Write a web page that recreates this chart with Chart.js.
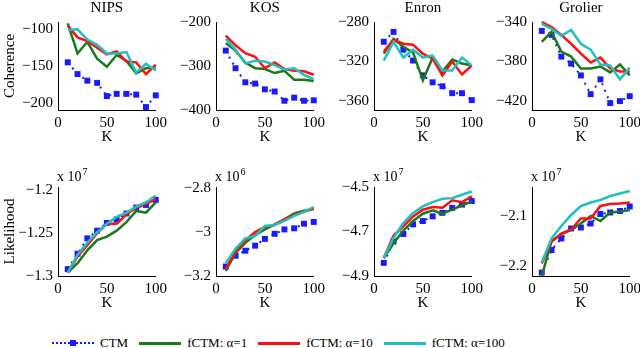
<!DOCTYPE html>
<html>
<head>
<meta charset="utf-8">
<script src="https://cdn.jsdelivr.net/npm/chart.js@4"></script>
<style>
html, body { margin: 0; padding: 0; background: #fff; }
body { width: 640px; height: 348px; position: relative; overflow: hidden; font-family: "Liberation Serif", serif; }
canvas.panel { position: absolute; }
#legend { position: absolute; left: 52px; top: 334px; height: 18px; display: flex; align-items: center; font-size: 13px; color: #000; }
.item { display: flex; align-items: center; margin-right: 11px; height: 18px; }
.swatch { position: relative; width: 42px; height: 0; margin-right: 6px; }
.swatch .sq { position: absolute; left: 18px; top: -4px; width: 6px; height: 6px; background: #1a1aff; }
</style>
</head>
<body>
<div id="legend"></div>
<script>
// x values and tick labels
const K = [10, 20, 30, 40, 50, 60, 70, 80, 90, 100];
const kTicks = [0, 50, 100];

const seriesNames = ['CTM', 'fCTM: \u03b1=1', 'fCTM: \u03b1=10', 'fCTM: \u03b1=100'];
const titles = ['NIPS', 'KOS', 'Enron', 'Grolier'];

// Coherence
const cohNipsCTM = [-145, -161, -170, -173, -191, -188, -188, -189, -206, -190];
const cohNipsA1 = [-92, -133, -117, -140, -151, -135, -143, -160, -153, -152];
const cohNipsA10 = [-95, -111, -116, -125, -134, -130, -144, -145, -161, -148];
const cohNipsA100 = [-101, -100, -114, -121, -133, -133, -131, -159, -147, -156];

const cohKosCTM = [-265, -305, -337, -340, -353, -358, -379, -372, -379, -378];
const cohKosA1 = [-248, -265, -292, -305, -307, -316, -311, -331, -331, -334];
const cohKosA10 = [-231, -253, -271, -279, -305, -292, -307, -311, -312, -320];
const cohKosA100 = [-238, -263, -294, -288, -290, -298, -308, -305, -320, -330];

const cohEnronCTM = [-300, -290, -308, -319, -334, -341, -345, -352, -352, -359];
const cohEnronA1 = [-312, -297, -305, -311, -339, -316, -330, -318, -322, -324];
const cohEnronA10 = [-310, -298, -302, -303, -312, -317, -334, -320, -333, -324];
const cohEnronA100 = [-319, -300, -316, -308, -316, -314, -329, -329, -316, -324];

const cohGrolierCTM = [-349, -353, -375, -382, -394, -413, -398, -422, -420, -415];
const cohGrolierA1 = [-360, -350, -370, -375, -387, -387, -385, -391, -383, -394];
const cohGrolierA10 = [-340, -345, -353, -362, -372, -381, -376, -387, -390, -390];
const cohGrolierA100 = [-342, -347, -354, -348, -362, -368, -383, -384, -398, -386];

// Likelihood (scaled by the exponent shown above each axis)
const llNipsCTM = [-1.292, -1.274, -1.256, -1.247, -1.238, -1.234, -1.227, -1.220, -1.217, -1.211];
const llNipsA1 = [-1.296, -1.285, -1.270, -1.258, -1.254, -1.247, -1.237, -1.224, -1.226, -1.214];
const llNipsA10 = [-1.296, -1.277, -1.264, -1.250, -1.239, -1.239, -1.228, -1.220, -1.216, -1.210];
const llNipsA100 = [-1.296, -1.275, -1.261, -1.249, -1.239, -1.231, -1.226, -1.219, -1.214, -1.206];

const llKosCTM = [-3.157, -3.108, -3.085, -3.062, -3.031, -3.008, -2.988, -2.983, -2.962, -2.954];
const llKosA1 = [-3.177, -3.095, -3.049, -3.014, -2.988, -2.965, -2.942, -2.915, -2.903, -2.895];
const llKosA10 = [-3.168, -3.088, -3.038, -3.000, -2.977, -2.968, -2.942, -2.922, -2.908, -2.892];
const llKosA100 = [-3.142, -3.075, -3.029, -3.018, -2.972, -2.968, -2.949, -2.926, -2.908, -2.886];

const llEnronCTM = [-4.841, -4.745, -4.711, -4.668, -4.653, -4.632, -4.616, -4.594, -4.579, -4.563];
const llEnronA1 = [-4.819, -4.753, -4.696, -4.653, -4.620, -4.605, -4.620, -4.602, -4.583, -4.565];
const llEnronA10 = [-4.819, -4.718, -4.677, -4.632, -4.602, -4.590, -4.593, -4.560, -4.568, -4.542];
const llEnronA100 = [-4.819, -4.729, -4.662, -4.617, -4.587, -4.568, -4.553, -4.550, -4.535, -4.520];

const llGrolierCTM = [-2.213, -2.168, -2.145, -2.125, -2.123, -2.115, -2.096, -2.093, -2.090, -2.081];
const llGrolierA1 = [-2.220, -2.151, -2.136, -2.128, -2.115, -2.100, -2.110, -2.093, -2.091, -2.088];
const llGrolierA10 = [-2.195, -2.151, -2.135, -2.127, -2.105, -2.105, -2.080, -2.076, -2.075, -2.073];
const llGrolierA100 = [-2.193, -2.145, -2.120, -2.098, -2.080, -2.073, -2.068, -2.060, -2.055, -2.050];

// y tick labels
const cohTicks = [[-200, -150, -100], [-400, -300, -200], [-360, -320, -280], [-420, -380, -340]];
const llTicks = [[-1.3, -1.25, -1.2], [-3.2, -3, -2.8], [-4.9, -4.7, -4.5], [-2.2, -2.1]];
const llExp = ['7', '6', '7', '7'];

// axis limits
const cohRange = [[-210, -90], [-400, -200], [-369, -280], [-429, -340]];
const llRange = [[-1.3, -1.196], [-3.2, -2.795], [-4.9, -4.5], [-2.22, -2.042]];

const cohData = [
    [cohNipsCTM, cohNipsA1, cohNipsA10, cohNipsA100],
    [cohKosCTM, cohKosA1, cohKosA10, cohKosA100],
    [cohEnronCTM, cohEnronA1, cohEnronA10, cohEnronA100],
    [cohGrolierCTM, cohGrolierA1, cohGrolierA10, cohGrolierA100]
];
const llData = [
    [llNipsCTM, llNipsA1, llNipsA10, llNipsA100],
    [llKosCTM, llKosA1, llKosA10, llKosA100],
    [llEnronCTM, llEnronA1, llEnronA10, llEnronA100],
    [llGrolierCTM, llGrolierA1, llGrolierA10, llGrolierA100]
];

const FONT = '"Liberation Serif", "Times New Roman", serif';
const colors = ['#1a1aff', '#1a7a1a', '#ff1010', '#20c0c0'];

// titles above the top row, "x 10^n" above the bottom row
const panelLabels = {
    id: 'panelLabels',
    afterDraw(chart, args, opts) {
        const { ctx, chartArea } = chart;
        ctx.save();
        ctx.fillStyle = '#000';
        if (opts.title) {
            ctx.font = '15px ' + FONT;
            ctx.textAlign = 'center';
            ctx.textBaseline = 'middle';
            ctx.fillText(opts.title, (chartArea.left + chartArea.right) / 2, 8);
        }
        if (opts.exp) {
            ctx.font = '14px ' + FONT;
            ctx.textAlign = 'left';
            ctx.textBaseline = 'alphabetic';
            const x0 = chartArea.left - 1;
            ctx.fillText('x 10', x0, chartArea.top - 6);
            const w = ctx.measureText('x 10').width;
            ctx.font = '10px ' + FONT;
            ctx.fillText(opts.exp, x0 + w + 1, chartArea.top - 12);
        }
        ctx.restore();
    }
};

function fmtTick(v) {
    return (v < 0 ? '\u2212' : '') + Math.abs(v);
}

function makeDatasets(series) {
    return series.map((vals, i) => {
        const ds = {
            label: seriesNames[i],
            data: K.map((k, j) => ({ x: k, y: vals[j] })),
            borderColor: colors[i],
            backgroundColor: colors[i],
            tension: 0,
            clip: false,
            order: 3 - i
        };
        if (i === 0) {
            ds.borderWidth = 2;
            ds.borderDash = [2, 5];
            ds.pointStyle = 'rect';
            ds.pointRadius = 4.2;
            ds.pointBorderWidth = 0;
        } else {
            ds.borderWidth = 2.5;
            ds.pointRadius = 0;
        }
        return ds;
    });
}

function makePanel(col, row) {
    const canvas = document.createElement('canvas');
    canvas.className = 'panel';
    const top = row === 0 ? 0 : 150;
    const padTop = row === 0 ? 22 : 37;
    const plotH = row === 0 ? 88 : 89;
    canvas.width = 171;
    canvas.height = padTop + plotH + 36;
    canvas.style.left = (158 * col) + 'px';
    canvas.style.top = top + 'px';
    document.body.appendChild(canvas);

    const range = row === 0 ? cohRange[col] : llRange[col];
    const yTicks = row === 0 ? cohTicks[col] : llTicks[col];
    const series = row === 0 ? cohData[col] : llData[col];

    new Chart(canvas.getContext('2d'), {
        type: 'line',
        data: { datasets: makeDatasets(series) },
        options: {
            responsive: false,
            animation: false,
            events: [],
            layout: { padding: { left: 0, right: 14, top: padTop, bottom: 0 } },
            plugins: {
                legend: { display: false },
                tooltip: { enabled: false },
                panelLabels: { title: row === 0 ? titles[col] : null, exp: row === 1 ? llExp[col] : null }
            },
            scales: {
                x: {
                    type: 'linear', min: 0, max: 100,
                    grid: { display: false, drawTicks: false },
                    border: { color: '#000', width: 1 },
                    ticks: { padding: 4, color: '#000', font: { family: FONT, size: 15 }, maxRotation: 0, autoSkip: false, callback: v => String(v) },
                    afterBuildTicks: s => { s.ticks = kTicks.map(v => ({ value: v })); },
                    afterFit: s => { s.height = 36; },
                    title: { display: true, text: 'K', color: '#000', font: { family: FONT, size: 15 }, padding: 0 }
                },
                y: {
                    type: 'linear', min: range[0], max: range[1],
                    grid: { display: false, drawTicks: false },
                    border: { color: '#000', width: 1 },
                    ticks: { padding: 5, color: '#000', font: { family: FONT, size: 15 }, autoSkip: false, callback: v => fmtTick(v) },
                    afterBuildTicks: s => { s.ticks = yTicks.map(v => ({ value: v })); },
                    afterFit: s => { s.width = 58; },
                    title: {
                        display: col === 0,
                        text: row === 0 ? 'Coherence' : 'Likelihood',
                        color: '#000', font: { family: FONT, size: 15 },
                        padding: { top: 1, bottom: 0 }
                    }
                }
            }
        },
        plugins: [panelLabels]
    });
}

for (let row = 0; row < 2; row++) {
    for (let col = 0; col < 4; col++) makePanel(col, row);
}

// legend
const legend = document.getElementById('legend');
seriesNames.forEach((name, i) => {
    const item = document.createElement('div');
    item.className = 'item';
    const sw = document.createElement('div');
    sw.className = 'swatch';
    if (i === 0) {
        sw.style.borderTop = '2px dotted ' + colors[i];
        const sq = document.createElement('div');
        sq.className = 'sq';
        sw.appendChild(sq);
    } else {
        sw.style.borderTop = '3px solid ' + colors[i];
    }
    const txt = document.createElement('span');
    txt.textContent = name;
    item.appendChild(sw);
    item.appendChild(txt);
    legend.appendChild(item);
});
</script>
</body>
</html>
